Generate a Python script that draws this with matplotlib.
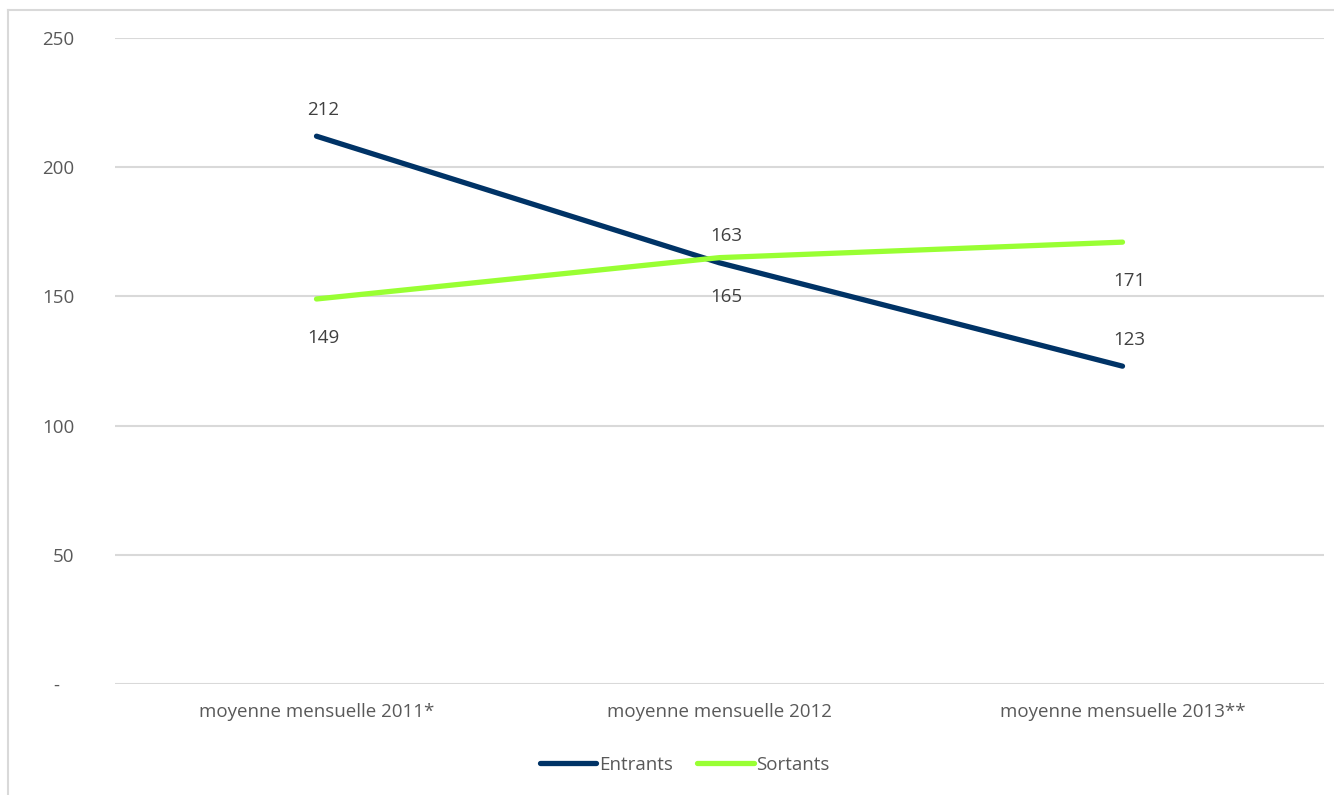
import matplotlib
matplotlib.use("Agg")
import matplotlib.pyplot as plt
from matplotlib.lines import Line2D

# -----------------------------
# Data
# -----------------------------
categories = ["moyenne mensuelle 2011*", "moyenne mensuelle 2012", "moyenne mensuelle 2013**"]
entrants = [212, 163, 123]
sortants = [149, 165, 171]
yticks = [0, 50, 100, 150, 200, 250]
ytick_labels = ["-   ", "50", "100", "150", "200", "250"]

# -----------------------------
# Style
# -----------------------------
plt.rcParams["font.family"] = ["Open Sans", "DejaVu Sans"]
TEXT = "#595959"
GRID = "#D9D9D9"
C_ENT = "#003366"
C_SOR = "#99FF33"
FS = 13.5

fig = plt.figure(figsize=(13.34, 7.95), dpi=100)
ax = fig.add_axes([115 / 1334, 111 / 795, 1209 / 1334, 646 / 795])

x = list(range(len(categories)))
ax.plot(x, entrants, color=C_ENT, lw=3.8, solid_capstyle="round", label="Entrants", zorder=3)
ax.plot(x, sortants, color=C_SOR, lw=3.8, solid_capstyle="round", label="Sortants", zorder=3)

# data labels: entrants above, sortants below
for xi, v in zip(x, entrants):
    ax.annotate(str(v), (xi, v), xytext=(5, 19), textcoords="offset points",
                ha="center", va="center", fontsize=FS, color="#404040")
for xi, v in zip(x, sortants):
    ax.annotate(str(v), (xi, v), xytext=(5, -28), textcoords="offset points",
                ha="center", va="center", fontsize=FS, color="#404040")

ax.set_xlim(-0.5, 2.5)
ax.set_ylim(0, 250)
ax.set_yticks(yticks)
ax.set_yticklabels(ytick_labels)
ax.set_xticks(x)
ax.set_xticklabels(categories)
ax.tick_params(axis="y", length=0, pad=29, labelsize=FS, labelcolor=TEXT)
ax.tick_params(axis="x", length=0, pad=14, labelsize=FS, labelcolor=TEXT)
ax.grid(axis="y", color=GRID, lw=1.5)
ax.set_axisbelow(True)
for s in ax.spines.values():
    s.set_visible(False)

# legend
fig.legend(handles=[Line2D([], [], color=C_ENT, lw=3.8, solid_capstyle="round"),
                    Line2D([], [], color=C_SOR, lw=3.8, solid_capstyle="round")],
           labels=["Entrants", "Sortants"], loc="center",
           bbox_to_anchor=(685 / 1334, 30 / 795), ncol=2, frameon=False,
           fontsize=FS, labelcolor=TEXT, handlelength=3.0, handletextpad=0.15,
           columnspacing=1.3)

# chart border (top and left)
fig.add_artist(Line2D([8 / 1334, 1], [1 - 10 / 795, 1 - 10 / 795], color=GRID, lw=1.5))
fig.add_artist(Line2D([8 / 1334, 8 / 1334], [0, 1 - 10 / 795], color=GRID, lw=1.5))

fig.savefig("out.png", dpi=100)
